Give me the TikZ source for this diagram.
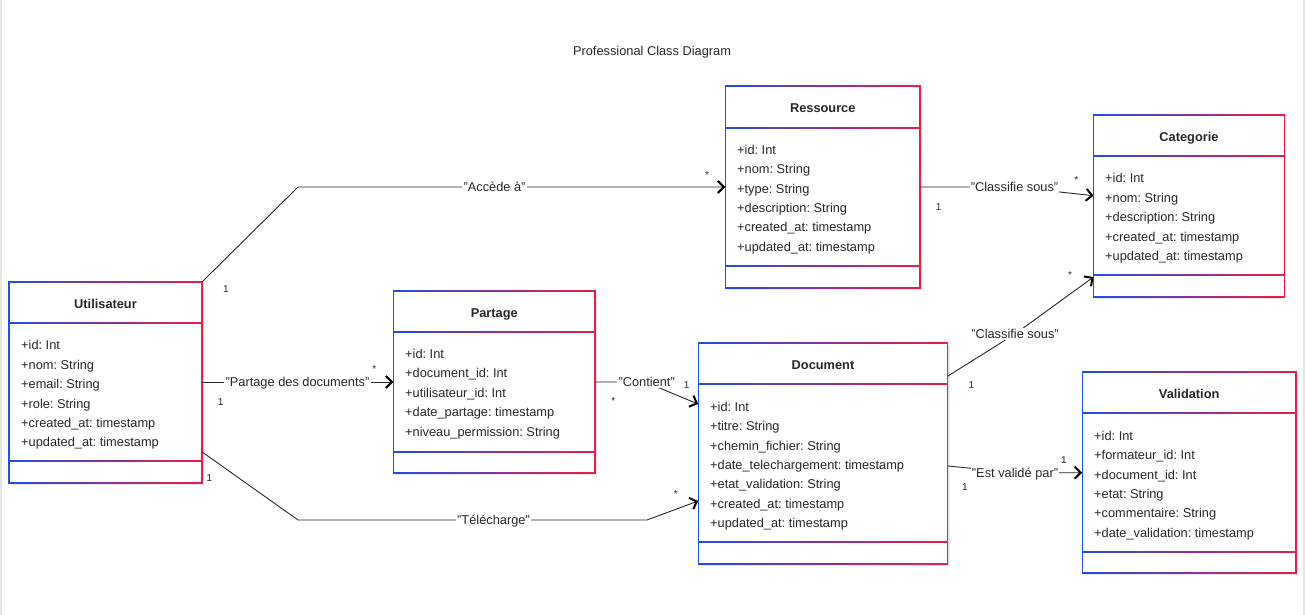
\documentclass[tikz,border=0pt]{standalone}
\usepackage{fontspec}
\setmainfont{Liberation Sans}
\usetikzlibrary{arrows.meta,fit,calc}
\definecolor{ublue}{RGB}{31,78,234}
\definecolor{ured}{RGB}{238,28,72}
\definecolor{txt}{RGB}{40,40,40}
\definecolor{edge}{RGB}{230,230,230}
\frenchspacing

\newcommand\umlclass[8]{%
  \coordinate (#1-nw) at (#2,#3);
  \coordinate (#1-se) at (#4,#7);
  \node[inner sep=0pt, fit=(#1-nw)(#1-se)] (#1) {};
  \fill[black!9] ($(#2,#3)+(2,2)$) rectangle ($(#4,#7)+(2,2)$);
  \fill[white] (#2,#3) rectangle (#4,#7);
  \foreach \yy in {#3,#5,#6,#7}
    \shade[left color=ublue,right color=ured] (#2,\yy-0.6) rectangle (#4,\yy+0.6);
  \draw[ublue,line width=1.3pt] (#2,#3-0.6) -- (#2,#7+0.6);
  \draw[ured,line width=1.3pt] (#4,#3-0.6) -- (#4,#7+0.6);
  \node[ctitle] (#1-t) at ({(#2+#4)/2},{(#3+#5)/2+5.5}) {#8};
}
\newcommand\umlattrs[4]{%
  \foreach \a [count=\i from 0] in {#4}
    \node[attr] (#1-a\i) at (#2,{#3+\i*19.4+4.5}) {\a};
}

\begin{document}
\frenchspacing
\begin{tikzpicture}[x=1pt,y=-1pt,
  ctitle/.style={anchor=base,inner sep=0pt,font=\fontsize{12.8}{15}\selectfont\bfseries\frenchspacing,text=txt},
  attr/.style={anchor=base west,inner sep=0pt,font=\fontsize{12.8}{15}\selectfont\frenchspacing,text=txt},
  elabel/.style={fill=white,inner sep=1.2pt,text height=9pt,text depth=0pt,font=\fontsize{12.8}{15}\selectfont\frenchspacing,text=txt},
  mult/.style={inner sep=0pt,font=\fontsize{10}{12}\selectfont,text=txt},
  assoc/.style={draw=txt,line width=0.9pt,-{Straight Barb[length=6pt,width=12pt,line width=2pt,color=black]}}
]
\useasboundingbox (0,0) rectangle (1305,615);
\fill[white] (0,0) rectangle (1305,615);
\fill[edge] (0,0) rectangle (2,615);
\fill[edge] (1303,0) rectangle (1305,615);

\node[font=\fontsize{12.8}{15}\selectfont,text=txt,inner sep=0pt,anchor=base] (title) at (652,55.5) {Professional Class Diagram};

% classes
\umlclass{util}{9}{282}{202}{323}{461}{483}{Utilisateur}
\umlattrs{util}{21}{345.3}{+id: Int,+nom: String,+email: String,+role: String,+created\_at: timestamp,+updated\_at: timestamp}

\umlclass{part}{393.5}{291}{595}{332.3}{451.7}{473.3}{Partage}
\umlattrs{part}{405}{354}{+id: Int,+document\_id: Int,+utilisateur\_id: Int,+date\_partage: timestamp,+niveau\_permission: String}

\umlclass{res}{725.5}{86}{920}{127.7}{265.7}{288}{Ressource}
\umlattrs{res}{737}{149.7}{+id: Int,+nom: String,+type: String,+description: String,+created\_at: timestamp,+updated\_at: timestamp}

\umlclass{cat}{1093.7}{114.7}{1284.3}{156.3}{274.7}{297}{Categorie}
\umlattrs{cat}{1105}{178.3}{+id: Int,+nom: String,+description: String,+created\_at: timestamp,+updated\_at: timestamp}

\umlclass{doc}{698.3}{343.3}{947.7}{384.3}{542}{564.3}{Document}
\umlattrs{doc}{710}{406.7}{+id: Int,+titre: String,+chemin\_fichier: String,+date\_telechargement: timestamp,+etat\_validation: String,+created\_at: timestamp,+updated\_at: timestamp}

\umlclass{val}{1082.3}{372}{1296}{413}{551.7}{573.3}{Validation}
\umlattrs{val}{1094}{435.7}{+id: Int,+formateur\_id: Int,+document\_id: Int,+etat: String,+commentaire: String,+date\_validation: timestamp}

% connectors
\draw[assoc] (util.north east) -- (298,187) -- (res.west |- 0,187);
\node[elabel] (l1) at (494.5,187) {"Accède à"};
\node[mult] (m1a) at (226,289) {1};
\node[mult] (m1b) at (707,175) {*};

\draw[assoc] (util.east |- 0,382) -- (part.west |- 0,382);
\node[elabel] (l2) at (297.5,382) {"Partage des documents"};
\node[mult] (m2a) at (220.7,401.7) {1};
\node[mult] (m2b) at (374.3,369) {*};

\draw[assoc] (util.east |- 0,452) -- (298,520) -- (647,520) -- (doc.west |- 0,501);
\node[elabel] (l3) at (493.5,520) {"Télécharge"};
\node[mult] (m3a) at (209.3,477.7) {1};
\node[mult] (m3b) at (675.7,494) {*};

\draw[assoc] (part.east |- 0,382) -- (645,382) -- (doc.west |- 0,404);
\node[elabel] (l4) at (646.7,382.3) {"Contient"};
\node[mult] (m4a) at (686.7,385) {1};
\node[mult] (m4b) at (613.3,401) {*};

\draw[assoc] (res.east |- 0,187) -- (1014,187) -- (cat.west |- 0,195.7);
\node[elabel] (l5) at (1014.5,187) {"Classifie sous"};
\node[mult] (m5a) at (938.7,206.7) {1};
\node[mult] (m5b) at (1076.3,180.5) {*};

\draw[assoc] (doc.east |- 0,376) -- (1015,334) -- (cat.west |- 0,277);
\node[elabel] (l6) at (1015,334) {"Classifie sous"};
\node[mult] (m6a) at (971.3,385) {1};
\node[mult] (m6b) at (1070,275) {*};

\draw[assoc] (doc.east |- 0,466) -- (1016,472.7) -- (val.west |- 0,472.7);
\node[elabel] (l7) at (1015,473) {"Est validé par"};
\node[mult] (m7a) at (1064,459.7) {1};
\node[mult] (m7b) at (965,486.7) {1};
\end{tikzpicture}
\end{document}
